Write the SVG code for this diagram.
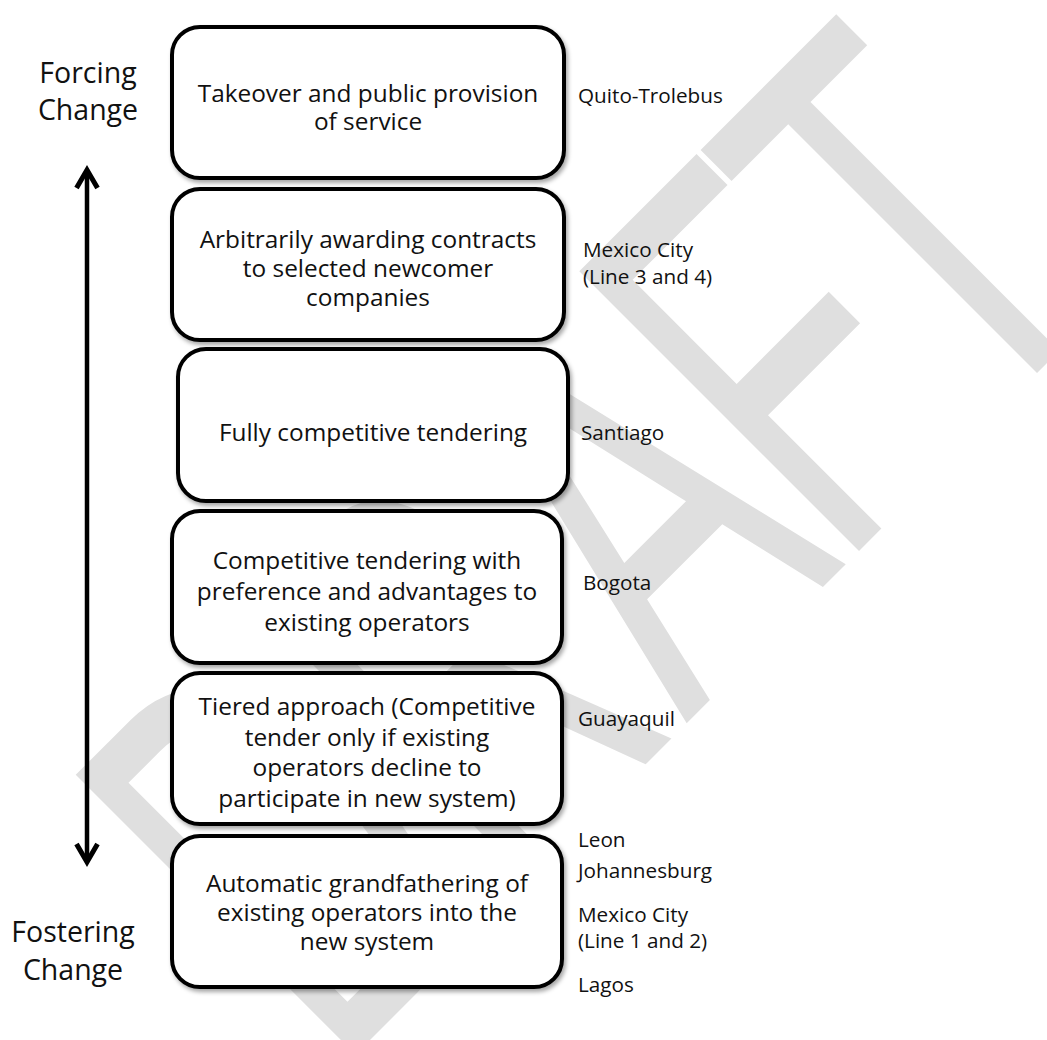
<svg xmlns="http://www.w3.org/2000/svg" width="1047" height="1040" viewBox="0 0 1047 1040">
<style>
.box{fill:#fff;stroke:#000;stroke-width:4;filter:url(#sh)}
.bt{font-family:"Open Sans","Liberation Sans",sans-serif;font-size:24.4px;fill:#111;text-anchor:middle}
.rl{font-family:"Open Sans","Liberation Sans",sans-serif;font-size:20.7px;fill:#111}
.ll{font-family:"Open Sans","Liberation Sans",sans-serif;font-size:28.5px;fill:#111;text-anchor:middle}
.wm{font-family:"Liberation Sans",Arial,sans-serif;font-size:575px;fill:#dfdfdf}
</style>
<defs>
<filter id="sh" x="-5%" y="-5%" width="115%" height="120%">
<feDropShadow dx="2" dy="3" stdDeviation="2" flood-color="#000" flood-opacity="0.35"/>
</filter>
<marker id="chev" viewBox="-24 -14 34 28" refX="0" refY="0" markerWidth="34" markerHeight="28" markerUnits="userSpaceOnUse" orient="auto-start-reverse" overflow="visible">
<polyline points="-18,-10.5 0,0 -18,10.5" fill="none" stroke="#000" stroke-width="5" stroke-linejoin="miter"/>
</marker>
</defs>
<rect width="1047" height="1040" fill="#fff"/>
<g id="watermark">
<text class="wm" transform="translate(705 705) rotate(-45) scale(0.59 1)"><tspan x="-885" y="0">D</tspan><tspan x="-469" y="0">R</tspan><tspan x="-45" y="0">A</tspan><tspan x="322" y="0">F</tspan><tspan x="647" y="0">T</tspan></text>
</g>
<g id="connectors">
<line x1="87" y1="170" x2="87" y2="862" stroke="#000" stroke-width="4.5" marker-start="url(#chev)" marker-end="url(#chev)"/>
</g>
<g id="label-forcing">
<text class="ll"><tspan x="88" y="83">Forcing</tspan><tspan x="88" y="120">Change</tspan></text>
</g>
<g id="label-fostering">
<text class="ll"><tspan x="73" y="942">Fostering</tspan><tspan x="73" y="980">Change</tspan></text>
</g>
<g id="box1">
<rect class="box" x="172" y="27" width="392" height="151" rx="28"/>
<text class="bt"><tspan x="368" y="102">Takeover and public provision</tspan><tspan x="368" y="130">of service</tspan></text>
</g>
<g id="box2">
<rect class="box" x="172" y="189" width="392" height="151" rx="28"/>
<text class="bt"><tspan x="368" y="248">Arbitrarily awarding contracts</tspan><tspan x="368" y="277">to selected newcomer</tspan><tspan x="368" y="306">companies</tspan></text>
</g>
<g id="box3">
<rect class="box" x="178" y="349" width="390" height="152" rx="28"/>
<text class="bt"><tspan x="373" y="441">Fully competitive tendering</tspan></text>
</g>
<g id="box4">
<rect class="box" x="172" y="511" width="390" height="152" rx="28"/>
<text class="bt"><tspan x="367" y="569">Competitive tendering with</tspan><tspan x="367" y="600">preference and advantages to</tspan><tspan x="367" y="631">existing operators</tspan></text>
</g>
<g id="box5">
<rect class="box" x="172" y="673" width="390" height="151" rx="28"/>
<text class="bt"><tspan x="367" y="715">Tiered approach (Competitive</tspan><tspan x="367" y="746">tender only if existing</tspan><tspan x="367" y="776">operators decline to</tspan><tspan x="367" y="807">participate in new system)</tspan></text>
</g>
<g id="box6">
<rect class="box" x="172" y="836" width="390" height="151" rx="28"/>
<text class="bt"><tspan x="367" y="892">Automatic grandfathering of</tspan><tspan x="367" y="921">existing operators into the</tspan><tspan x="367" y="950">new system</tspan></text>
</g>
<g id="examples">
<text class="rl" x="578" y="103">Quito-Trolebus</text>
<text class="rl"><tspan x="583" y="257">Mexico City</tspan><tspan x="583" y="284">(Line 3 and 4)</tspan></text>
<text class="rl" x="581" y="440">Santiago</text>
<text class="rl" x="583" y="590">Bogota</text>
<text class="rl" x="578" y="726">Guayaquil</text>
<text class="rl" x="578" y="847">Leon</text>
<text class="rl" x="578" y="878">Johannesburg</text>
<text class="rl"><tspan x="578" y="922">Mexico City</tspan><tspan x="578" y="948">(Line 1 and 2)</tspan></text>
<text class="rl" x="578" y="992">Lagos</text>
</g>
</svg>
